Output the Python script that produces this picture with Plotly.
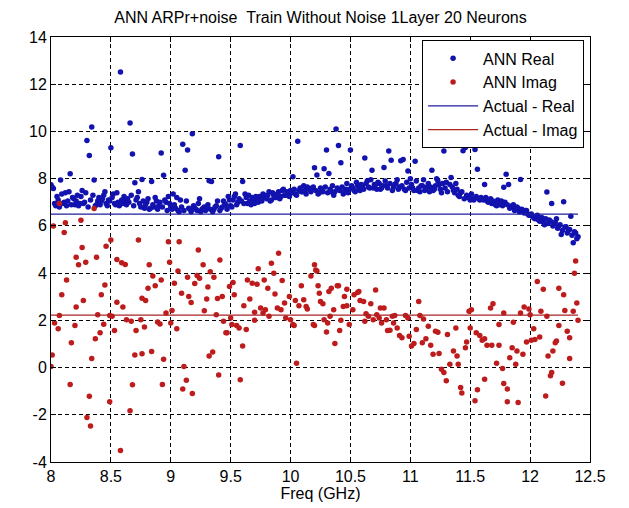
import plotly.graph_objects as go

# ---------------- data ----------------
# ANN real part, main sweep (outliers + band)
real_freq = [
    8.00, 8.02, 8.04, 8.06, 8.08, 8.10, 8.12, 8.14, 8.16, 8.18,
    8.20, 8.22, 8.24, 8.26, 8.28, 8.30, 8.32, 8.34, 8.36, 8.38,
    8.40, 8.42, 8.44, 8.46, 8.48, 8.50, 8.52, 8.54, 8.56, 8.58,
    8.60, 8.62, 8.64, 8.66, 8.68, 8.70, 8.72, 8.74, 8.76, 8.78,
    8.80, 8.82, 8.84, 8.86, 8.88, 8.90, 8.92, 8.94, 8.96, 8.98,
    9.00, 9.02, 9.04, 9.06, 9.08, 9.10, 9.12, 9.14, 9.16, 9.18,
    9.20, 9.22, 9.24, 9.26, 9.28, 9.30, 9.32, 9.34, 9.36, 9.38,
    9.40, 9.42, 9.44, 9.46, 9.48, 9.50, 9.52, 9.54, 9.56, 9.58,
    9.60, 9.62, 9.64, 9.66, 9.68, 9.70, 9.72, 9.74, 9.76, 9.78,
    9.80, 9.82, 9.84, 9.86, 9.88, 9.90, 9.92, 9.94, 9.96, 9.98,
    10.00, 10.02, 10.04, 10.06, 10.08, 10.10, 10.12, 10.14, 10.16, 10.18,
    10.20, 10.22, 10.24, 10.26, 10.28, 10.30, 10.32, 10.34, 10.36, 10.38,
    10.40, 10.42, 10.44, 10.46, 10.48, 10.50, 10.52, 10.54, 10.56, 10.58,
    10.60, 10.62, 10.64, 10.66, 10.68, 10.70, 10.72, 10.74, 10.76, 10.78,
    10.80, 10.82, 10.84, 10.86, 10.88, 10.90, 10.92, 10.94, 10.96, 10.98,
    11.00, 11.02, 11.04, 11.06, 11.08, 11.10, 11.12, 11.14, 11.16, 11.18,
    11.20, 11.22, 11.24, 11.26, 11.28, 11.30, 11.32, 11.34, 11.36, 11.38,
    11.40, 11.42, 11.44, 11.46, 11.48, 11.50, 11.52, 11.54, 11.56, 11.58,
    11.60, 11.62, 11.64, 11.66, 11.68, 11.70, 11.72, 11.74, 11.76, 11.78,
    11.80, 11.82, 11.84, 11.86, 11.88, 11.90, 11.92, 11.94, 11.96, 11.98,
    12.00, 12.02, 12.04, 12.06, 12.08, 12.10, 12.12, 12.14, 12.16, 12.18,
    12.20, 12.22, 12.24, 12.26, 12.28, 12.30, 12.32, 12.34, 12.36, 12.38,
    12.40,
]
ann_real = [
    7.74, 7.58, 6.85, 7.10, 7.94, 6.95, 7.40, 7.05, 8.21, 7.20,
    6.90, 7.30, 6.95, 7.50, 7.00, 9.62, 8.98, 10.19, 7.94, 6.90,
    7.20, 7.05, 7.30, 6.95, 7.10, 9.31, 7.35, 6.90, 7.00, 12.52,
    6.95, 7.05, 7.15, 10.36, 9.04, 7.83, 7.20, 6.95, 7.97, 6.75,
    7.00, 6.70, 7.88, 6.80, 7.05, 6.85, 9.09, 8.14, 7.00, 7.25,
    6.80, 7.35, 6.75, 6.65, 7.10, 9.46, 8.36, 9.21, 6.70, 9.90,
    6.75, 6.65, 7.15, 6.70, 6.80, 6.75, 7.91, 7.88, 6.70, 6.85,
    8.93, 6.75, 7.05, 6.90, 7.25, 6.85, 7.10, 7.35, 7.00, 9.40,
    7.88, 7.35, 6.95, 7.05, 7.20, 6.95, 7.10, 7.25, 7.05, 7.30,
    7.15, 7.45, 7.10, 7.30, 7.20, 7.45, 7.25, 7.55, 7.30, 7.40,
    7.50, 8.08, 7.35, 9.59, 7.60, 7.45, 7.50, 7.65, 7.55, 7.60,
    8.46, 8.15, 7.40, 7.55, 8.42, 9.21, 8.22, 7.45, 7.30, 10.10,
    9.40, 8.67, 7.35, 7.55, 7.40, 9.21, 7.60, 7.45, 7.70, 7.50,
    7.65, 8.88, 7.90, 7.60, 8.36, 7.75, 7.55, 7.80, 7.60, 8.47,
    7.70, 9.17, 8.78, 7.65, 7.80, 7.55, 8.76, 8.81, 7.50, 8.32,
    8.00, 7.60, 8.74, 7.50, 7.45, 7.70, 7.50, 7.65, 7.45, 8.36,
    7.55, 8.00, 7.75, 7.40, 9.17, 7.85, 9.40, 8.05, 7.50, 7.80,
    7.30, 7.40, 9.18, 9.32, 7.20, 7.10, 7.15, 9.24, 8.40, 7.10,
    7.15, 7.75, 7.05, 7.10, 6.95, 7.00, 6.85, 6.90, 7.05, 7.64,
    8.19, 7.75, 6.80, 6.90, 6.70, 6.75, 7.97, 6.60, 6.65, 6.50,
    6.45, 6.40, 6.30, 6.45, 6.20, 6.35, 6.05, 7.44, 6.25, 6.95,
    6.10, 6.30, 6.00, 5.64, 7.02, 5.96, 5.80, 6.41, 5.29, 5.70,
    5.54,
]
# ANN real part, in-between sweep points (dense band)
real_freq_mid = [
    8.01, 8.03, 8.05, 8.07, 8.09, 8.11, 8.13, 8.15, 8.17, 8.19,
    8.21, 8.23, 8.25, 8.27, 8.29, 8.31, 8.33, 8.35, 8.37, 8.39,
    8.41, 8.43, 8.45, 8.47, 8.49, 8.51, 8.53, 8.55, 8.57, 8.59,
    8.61, 8.63, 8.65, 8.67, 8.69, 8.71, 8.73, 8.75, 8.77, 8.79,
    8.81, 8.83, 8.85, 8.87, 8.89, 8.91, 8.93, 8.95, 8.97, 8.99,
    9.01, 9.03, 9.05, 9.07, 9.09, 9.11, 9.13, 9.15, 9.17, 9.19,
    9.21, 9.23, 9.25, 9.27, 9.29, 9.31, 9.33, 9.35, 9.37, 9.39,
    9.41, 9.43, 9.45, 9.47, 9.49, 9.51, 9.53, 9.55, 9.57, 9.59,
    9.61, 9.63, 9.65, 9.67, 9.69, 9.71, 9.73, 9.75, 9.77, 9.79,
    9.81, 9.83, 9.85, 9.87, 9.89, 9.91, 9.93, 9.95, 9.97, 9.99,
    10.01, 10.03, 10.05, 10.07, 10.09, 10.11, 10.13, 10.15, 10.17, 10.19,
    10.21, 10.23, 10.25, 10.27, 10.29, 10.31, 10.33, 10.35, 10.37, 10.39,
    10.41, 10.43, 10.45, 10.47, 10.49, 10.51, 10.53, 10.55, 10.57, 10.59,
    10.61, 10.63, 10.65, 10.67, 10.69, 10.71, 10.73, 10.75, 10.77, 10.79,
    10.81, 10.83, 10.85, 10.87, 10.89, 10.91, 10.93, 10.95, 10.97, 10.99,
    11.01, 11.03, 11.05, 11.07, 11.09, 11.11, 11.13, 11.15, 11.17, 11.19,
    11.21, 11.23, 11.25, 11.27, 11.29, 11.31, 11.33, 11.35, 11.37, 11.39,
    11.41, 11.43, 11.45, 11.47, 11.49, 11.51, 11.53, 11.55, 11.57, 11.59,
    11.61, 11.63, 11.65, 11.67, 11.69, 11.71, 11.73, 11.75, 11.77, 11.79,
    11.81, 11.83, 11.85, 11.87, 11.89, 11.91, 11.93, 11.95, 11.97, 11.99,
    12.01, 12.03, 12.05, 12.07, 12.09, 12.11, 12.13, 12.15, 12.17, 12.19,
    12.21, 12.23, 12.25, 12.27, 12.29, 12.31, 12.33, 12.35, 12.37, 12.39,
]
ann_real_mid = [
    7.65, 6.95, 7.25, 6.80, 7.35, 7.00, 6.85, 7.45, 6.90, 7.15,
    7.05, 6.85, 7.25, 6.95, 7.40, 6.80, 7.10, 7.30, 6.85, 7.05,
    6.90, 7.15, 7.45, 6.85, 7.05, 7.20, 6.95, 7.40, 6.85, 7.10,
    7.25, 6.90, 7.00, 7.30, 6.85, 7.10, 7.45, 6.80, 7.05, 6.90,
    7.15, 6.75, 6.90, 7.20, 6.70, 7.00, 6.80, 7.10, 6.65, 6.95,
    6.70, 6.90, 7.20, 6.60, 6.80, 6.65, 7.05, 6.75, 6.60, 6.85,
    6.70, 6.95, 6.60, 6.75, 6.65, 6.90, 6.70, 6.60, 6.80, 7.05,
    6.65, 6.80, 6.95, 6.70, 7.10, 6.80, 7.25, 6.90, 7.15, 7.05,
    6.95, 7.20, 7.30, 6.90, 7.10, 7.25, 7.00, 7.15, 7.35, 7.20,
    7.30, 7.05, 7.40, 7.20, 7.35, 7.15, 7.50, 7.30, 7.45, 7.25,
    7.40, 7.55, 7.30, 7.50, 7.45, 7.70, 7.35, 7.55, 7.45, 7.65,
    7.50, 7.35, 7.60, 7.45, 7.65, 7.40, 7.55, 7.70, 7.45, 7.60,
    7.50, 7.65, 7.45, 7.80, 7.55, 7.70, 7.50, 7.85, 7.60, 7.75,
    7.55, 7.80, 7.65, 7.95, 7.60, 7.75, 7.85, 7.55, 7.70, 7.90,
    7.60, 7.80, 7.50, 7.75, 7.95, 7.65, 7.70, 7.55, 7.85, 7.60,
    7.75, 7.50, 7.90, 7.60, 7.70, 7.95, 7.55, 7.80, 7.65, 7.50,
    7.70, 7.90, 7.55, 7.80, 7.60, 7.45, 7.75, 7.65, 7.40, 7.55,
    7.25, 7.45, 7.15, 7.30, 7.20, 7.35, 7.10, 7.25, 7.15, 7.20,
    7.10, 7.20, 7.00, 7.15, 7.05, 6.90, 7.10, 6.95, 6.85, 7.00,
    6.90, 6.75, 6.85, 6.65, 6.80, 6.60, 6.70, 6.55, 6.65, 6.45,
    6.50, 6.35, 6.40, 6.25, 6.35, 6.15, 6.30, 6.10, 6.20, 6.00,
    6.15, 5.90, 6.05, 5.80, 5.95, 5.70, 5.85, 5.60, 5.75, 5.45,
]

imag_freq = [
    8.00, 8.01, 8.02, 8.03, 8.06, 8.07, 8.07, 8.09, 8.11, 8.12,
    8.13, 8.16, 8.17, 8.20, 8.21, 8.21, 8.23, 8.25, 8.26, 8.27,
    8.29, 8.30, 8.32, 8.33, 8.34, 8.36, 8.37, 8.38, 8.39, 8.41,
    8.42, 8.44, 8.45, 8.46, 8.49, 8.49, 8.50, 8.51, 8.53, 8.55,
    8.55, 8.58, 8.59, 8.60, 8.62, 8.63, 8.66, 8.67, 8.68, 8.70,
    8.71, 8.73, 8.75, 8.76, 8.76, 8.78, 8.79, 8.81, 8.82, 8.84,
    8.85, 8.87, 8.89, 8.91, 8.92, 8.93, 8.94, 8.96, 8.98, 8.99,
    9.00, 9.01, 9.03, 9.05, 9.06, 9.07, 9.09, 9.10, 9.11, 9.13,
    9.14, 9.15, 9.17, 9.18, 9.20, 9.22, 9.23, 9.24, 9.27, 9.28,
    9.30, 9.31, 9.32, 9.33, 9.35, 9.36, 9.38, 9.39, 9.40, 9.41,
    9.43, 9.44, 9.46, 9.47, 9.49, 9.50, 9.51, 9.52, 9.53, 9.55,
    9.57, 9.58, 9.60, 9.61, 9.63, 9.64, 9.66, 9.68, 9.70, 9.70,
    9.72, 9.73, 9.75, 9.77, 9.78, 9.79, 9.81, 9.82, 9.84, 9.86,
    9.87, 9.89, 9.90, 9.92, 9.93, 9.95, 9.96, 9.99, 10.00, 10.02,
    10.03, 10.04, 10.05, 10.07, 10.09, 10.11, 10.13, 10.14, 10.17, 10.19,
    10.20, 10.20, 10.21, 10.22, 10.23, 10.24, 10.25, 10.27, 10.28, 10.30,
    10.31, 10.32, 10.33, 10.34, 10.36, 10.37, 10.39, 10.40, 10.41, 10.42,
    10.44, 10.45, 10.47, 10.47, 10.49, 10.52, 10.53, 10.56, 10.57, 10.58,
    10.61, 10.62, 10.63, 10.65, 10.67, 10.69, 10.71, 10.72, 10.74, 10.75,
    10.76, 10.78, 10.80, 10.81, 10.83, 10.85, 10.86, 10.87, 10.89, 10.91,
    10.93, 10.96, 10.98, 10.99, 11.01, 11.03, 11.05, 11.07, 11.08, 11.10,
    11.11, 11.13, 11.15, 11.17, 11.19, 11.21, 11.23, 11.24, 11.26, 11.28,
    11.30, 11.31, 11.33, 11.36, 11.38, 11.39, 11.40, 11.42, 11.43, 11.46,
    11.47, 11.49, 11.50, 11.51, 11.54, 11.55, 11.56, 11.58, 11.60, 11.62,
    11.62, 11.64, 11.67, 11.68, 11.69, 11.72, 11.74, 11.74, 11.77, 11.78,
    11.78, 11.81, 11.81, 11.83, 11.85, 11.86, 11.88, 11.89, 11.90, 11.92,
    11.94, 11.95, 11.97, 11.99, 12.00, 12.01, 12.03, 12.04, 12.06, 12.08,
    12.09, 12.11, 12.13, 12.14, 12.15, 12.17, 12.18, 12.19, 12.21, 12.22,
    12.24, 12.24, 12.27, 12.28, 12.29, 12.31, 12.33, 12.33, 12.36, 12.37,
    12.38, 12.39, 12.40,
]
ann_imag = [
    0.04, 0.53, 5.99, 1.89, 1.64, 2.20, 6.95, 3.08, 5.72, 6.13,
    3.71, -0.72, 1.05, 1.78, 4.67, 2.56, 4.35, 6.24, 5.09, 2.84,
    4.46, -2.11, -1.21, -2.47, 0.38, 6.74, 1.22, 4.67, 2.24, 1.47,
    3.08, 1.83, 3.50, 5.14, 2.21, -1.45, 5.40, 2.17, 1.57, 2.77,
    4.58, -3.51, 4.44, 2.56, 4.37, 2.03, -1.83, 1.96, -0.73, 0.53,
    1.57, 5.40, 2.03, 0.59, 2.94, 1.72, 2.84, 3.36, 4.35, 0.68,
    3.88, 3.46, 1.93, 1.85, 3.71, -0.72, 0.35, 2.31, 5.33, 4.46,
    1.89, 2.42, 3.57, 1.64, 4.09, 5.33, 3.15, -0.91, 0.04, -0.54,
    3.83, 3.01, 2.76, -1.10, 3.56, 3.90, 4.98, 3.78, 4.35, 2.41,
    2.90, 3.41, 0.49, 4.06, 0.66, 3.83, 2.24, 2.93, -0.31, 4.56,
    3.01, 1.96, 1.47, 1.47, 3.43, 2.10, 1.82, 3.60, 3.08, 1.78,
    1.68, -0.52, 0.91, 2.62, 1.61, 3.71, 2.90, 3.57, 2.00, 2.34,
    3.53, 4.18, 2.52, 2.31, 3.71, 2.45, 3.36, 2.17, 4.42, 3.99,
    3.12, 2.52, 4.84, 2.45, 3.69, 2.73, 2.10, 3.01, 2.03, 1.82,
    1.78, 2.84, 0.18, 2.62, 3.46, 2.87, 2.59, 2.48, 3.88, 1.82,
    4.35, 1.78, 4.13, 4.09, 3.46, 3.15, 2.80, 2.70, 2.03, 1.51,
    1.89, 3.22, 2.17, 3.36, 2.45, 1.02, 3.46, 3.46, 1.57, 2.00,
    2.59, 3.01, 2.62, 3.32, 1.82, 2.45, 3.08, 3.18, 3.22, 2.84,
    2.80, 1.96, 2.28, 2.17, 2.70, 2.03, 3.29, 2.24, 2.10, 2.52,
    1.89, 2.52, 2.03, 1.57, 1.58, 2.17, 1.89, 2.20, 1.68, 1.36,
    1.26, 2.20, 2.10, 1.33, 0.91, 1.02, 1.61, 2.80, 2.20, 1.05,
    2.06, 1.22, 1.75, 0.94, 0.56, 1.54, 1.50, 0.60, -0.07, -0.21,
    -0.56, 1.40, 0.14, 0.70, 1.68, 0.49, 0.14, -0.84, -1.08, 0.84,
    1.08, 2.38, 1.68, 2.45, -1.41, 1.47, -0.94, 1.36, 1.16, -0.49,
    1.22, 0.94, 2.52, 0.94, 2.70, 0.18, 1.82, 0.94, -0.04, 2.31,
    -0.68, -1.45, -0.91, 0.42, 0.84, 1.92, 0.14, 0.70, -1.48, 2.31,
    0.56, 2.56, 1.08, 2.48, 2.24, 1.16, 1.64, 1.19, 3.64, 1.29,
    2.38, 3.32, -1.20, 2.17, 0.49, -0.35, -0.21, 0.70, 1.05, 1.12,
    1.78, 3.36, -0.66, 3.08, 2.42, 1.54, 1.26, 0.38, 2.38, 3.99,
    4.51, 2.73, 2.00,
]

actual_freq = [8.0, 12.4]
actual_real = [6.5, 6.5]
actual_imag = [2.22, 2.22]

x_ticks = [8, 8.5, 9, 9.5, 10, 10.5, 11, 11.5, 12, 12.5]
x_ticklabels = ["8", "8.5", "9", "9.5", "10", "10.5", "11", "11.5", "12", "12.5"]
y_ticks = [-4, -2, 0, 2, 4, 6, 8, 10, 12, 14]
y_ticklabels = ["-4", "-2", "0", "2", "4", "6", "8", "10", "12", "14"]

title_text = "ANN ARPr+noise\u00a0\u00a0Train Without Noise 1Layer 20 Neurons"

# ---------------- styling ----------------
FONT = "Liberation Sans, Arial, sans-serif"
BLUE_DOT = "rgb(18,18,175)"
RED_DOT = "rgb(190,28,28)"
BLUE_LINE = "rgb(30,30,160)"
RED_LINE = "rgb(170,35,35)"

fig = go.Figure()
fig.add_trace(go.Scatter(x=real_freq + real_freq_mid, y=ann_real + ann_real_mid,
                         mode="markers", name="ANN Real",
                         marker=dict(color=BLUE_DOT, size=5.5, line=dict(width=0))))
fig.add_trace(go.Scatter(x=imag_freq, y=ann_imag, mode="markers", name="ANN Imag",
                         marker=dict(color=RED_DOT, size=5.5, line=dict(width=0))))
fig.add_trace(go.Scatter(x=actual_freq, y=actual_real, mode="lines", name="Actual - Real",
                         line=dict(color=BLUE_LINE, width=1.2)))
fig.add_trace(go.Scatter(x=actual_freq, y=actual_imag, mode="lines", name="Actual - Imag",
                         line=dict(color=RED_LINE, width=1.2)))

axis_common = dict(
    showline=True, linecolor="black", linewidth=1, mirror="ticks",
    ticks="inside", ticklen=5, tickcolor="black", tickwidth=1,
    showgrid=True, gridcolor="black", gridwidth=1, griddash="4px,3px",
    zeroline=False, tickfont=dict(family=FONT, size=16, color="black"),
)

fig.update_layout(
    width=629, height=508,
    margin=dict(l=51, r=39, t=37, b=46, pad=0, autoexpand=False),
    paper_bgcolor="white", plot_bgcolor="white",
    font=dict(family=FONT, size=16, color="black"),
    title=dict(text=title_text, x=0.5, xref="paper", y=1 - 17 / 508, yref="container",
               xanchor="center", yanchor="middle",
               font=dict(family=FONT, size=16, color="black")),
    xaxis=dict(range=[8, 12.5], tickvals=x_ticks, ticktext=x_ticklabels,
               title=dict(text="Freq (GHz)", font=dict(family=FONT, size=16), standoff=3),
               **axis_common),
    yaxis=dict(range=[-4, 14], tickvals=y_ticks, ticktext=y_ticklabels, **axis_common),
    legend=dict(x=0.989, y=0.992, xanchor="right", yanchor="top",
                bgcolor="white", bordercolor="black", borderwidth=1,
                font=dict(family=FONT, size=16, color="black"),
                itemwidth=50, tracegroupgap=0),
    showlegend=True,
)

fig.write_html("out.html")
